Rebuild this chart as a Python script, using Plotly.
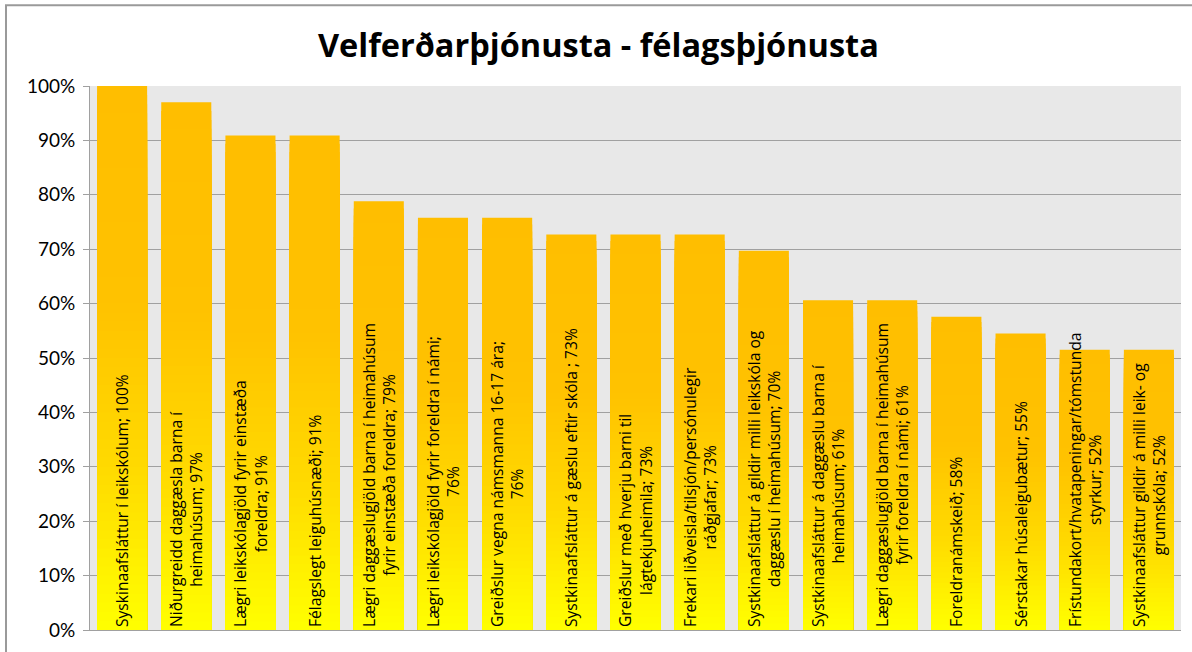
import plotly.graph_objects as go

# ---- data ----
categories = [
    "Syskinaafsláttur í leikskólum",
    "Niðurgreidd daggæsla barna í heimahúsum",
    "Lægri leikskólagjöld fyrir einstæða foreldra",
    "Félagslegt leiguhúsnæði",
    "Lægri daggæslugjöld barna í heimahúsum fyrir einstæða foreldra",
    "Lægri leikskólagjöld fyrir foreldra í námi",
    "Greiðslur vegna námsmanna 16-17 ára",
    "Systkinaafsláttur á gæslu eftir skóla",
    "Greiðslur með hverju barni til lágtekjuheimila",
    "Frekari liðveisla/tilsjón/persónulegir ráðgjafar",
    "Systkinaafsláttur á gildir milli leikskóla og daggæslu í heimahúsum",
    "Systkinaafsláttur á daggæslu barna í heimahúsum",
    "Lægri daggæslugjöld barna í heimahúsum fyrir foreldra í námi",
    "Foreldranámskeið",
    "Sérstakar húsaleigubætur",
    "Frístundakort/hvatapeningar/tómstunda styrkur",
    "Systkinaafsláttur gildir á milli leik- og grunnskóla",
]
values = [1.000, 0.970, 0.909, 0.909, 0.788, 0.758, 0.758, 0.727, 0.727,
          0.727, 0.697, 0.606, 0.606, 0.576, 0.545, 0.515, 0.515]
bar_labels = [
    "Syskinaafsláttur í leikskólum; 100%",
    "Niðurgreidd daggæsla barna í<br>heimahúsum; 97%",
    "Lægri leikskólagjöld fyrir einstæða<br>foreldra; 91%",
    "Félagslegt leiguhúsnæði; 91%",
    "Lægri daggæslugjöld barna í heimahúsum<br>fyrir einstæða foreldra; 79%",
    "Lægri leikskólagjöld fyrir foreldra í námi;<br>76%",
    "Greiðslur vegna námsmanna 16-17 ára;<br>76%",
    "Systkinaafsláttur á gæslu eftir skóla ; 73%",
    "Greiðslur með hverju barni til<br>lágtekjuheimila; 73%",
    "Frekari liðveisla/tilsjón/persónulegir<br>ráðgjafar; 73%",
    "Systkinaafsláttur á gildir milli leikskóla og<br>daggæslu í heimahúsum; 70%",
    "Systkinaafsláttur á daggæslu barna í<br>heimahúsum; 61%",
    "Lægri daggæslugjöld barna í heimahúsum<br>fyrir foreldra í námi; 61%",
    "Foreldranámskeið; 58%",
    "Sérstakar húsaleigubætur; 55%",
    "Frístundakort/hvatapeningar/tómstunda<br>styrkur; 52%",
    "Systkinaafsláttur gildir á milli leik- og<br>grunnskóla; 52%",
]
y_ticks = [0, 0.1, 0.2, 0.3, 0.4, 0.5, 0.6, 0.7, 0.8, 0.9, 1.0]
title_text = "Velferðarþjónusta - félagsþjónusta"

# ---- styling ----
FONT = "Lato"
LABEL_FONT = "Open Sans"
N_LAYERS = 60
# green channel stops along bar height (fraction from the top): orange -> yellow
grad_t = [0.0, 0.4, 0.7, 1.0]
grad_g = [190, 194, 218, 255]


def green_at(t):
    for i in range(len(grad_t) - 1):
        if grad_t[i] <= t <= grad_t[i + 1]:
            a = (t - grad_t[i]) / (grad_t[i + 1] - grad_t[i])
            return grad_g[i] + a * (grad_g[i + 1] - grad_g[i])
    return grad_g[-1]


x_idx = list(range(len(categories)))
fig = go.Figure()

# gradient: overlapping bars of decreasing height, each a bit more yellow
for k in range(N_LAYERS):
    frac_top = (N_LAYERS - k) / N_LAYERS
    mid = (N_LAYERS - k - 0.5) / N_LAYERS
    g = int(round(green_at(1 - mid)))
    fig.add_trace(go.Bar(
        x=x_idx,
        y=[v * frac_top for v in values],
        marker=dict(color=f"rgb(255,{g},0)", line=dict(width=0)),
        hoverinfo="skip",
        showlegend=False,
    ))

# labels
fig.add_trace(go.Bar(
    x=x_idx,
    y=values,
    text=bar_labels,
    textposition="inside",
    insidetextanchor="start",
    textangle=-90,
    constraintext="none",
    textfont=dict(family=LABEL_FONT, size=15.6, color="black"),
    marker=dict(color="rgba(0,0,0,0)", line=dict(width=0)),
    customdata=categories,
    hovertemplate="%{customdata}: %{y:.0%}<extra></extra>",
    showlegend=False,
))

PLOT_L, PLOT_R, PLOT_T, PLOT_B = 90, 1181, 86, 638
W, H = 1192, 652
pw, ph = PLOT_R - PLOT_L, PLOT_B - PLOT_T

fig.update_layout(
    width=W, height=H,
    margin=dict(l=PLOT_L, r=W - PLOT_R, t=PLOT_T, b=H - PLOT_B, pad=0),
    barmode="overlay",
    bargap=0.22,
    paper_bgcolor="white",
    plot_bgcolor="#E8E8E8",
    font=dict(family=FONT, color="black"),
    title=dict(
        text=title_text,
        font=dict(family="Open Sans", size=32.5, color="black", weight="bold"),
        x=0.502, xref="container", xanchor="center",
        y=1 - 46 / H, yref="container", yanchor="middle",
    ),
    xaxis=dict(
        range=[-0.5, len(categories) - 0.5],
        showticklabels=False, showgrid=False, zeroline=False,
        showline=True, linecolor="#A0A0A0", linewidth=1, ticks="",
    ),
    yaxis=dict(
        range=[0, 1], tickvals=y_ticks, tickformat=".0%",
        showgrid=True, gridcolor="#A0A0A0", gridwidth=1,
        zeroline=False, showline=True, linecolor="#A0A0A0", linewidth=1,
        ticks="outside", ticklen=6, tickcolor="#A0A0A0",
        ticklabelstandoff=4,
        tickfont=dict(family=FONT, size=19, color="black"),
    ),
    shapes=[dict(
        type="rect", xref="paper", yref="paper",
        x0=(6 - PLOT_L) / pw, x1=(W + 20 - PLOT_L) / pw,
        y0=-(H + 20 - PLOT_B) / ph, y1=1 + (PLOT_T - 4) / ph,
        line=dict(color="#9A9A9A", width=2), fillcolor="rgba(0,0,0,0)",
        layer="below",
    )],
)

fig.write_html(
    "out.html",
    config={"displayModeBar": False},
    post_script="document.body.style.margin='0';document.body.style.overflow='hidden';",
)
